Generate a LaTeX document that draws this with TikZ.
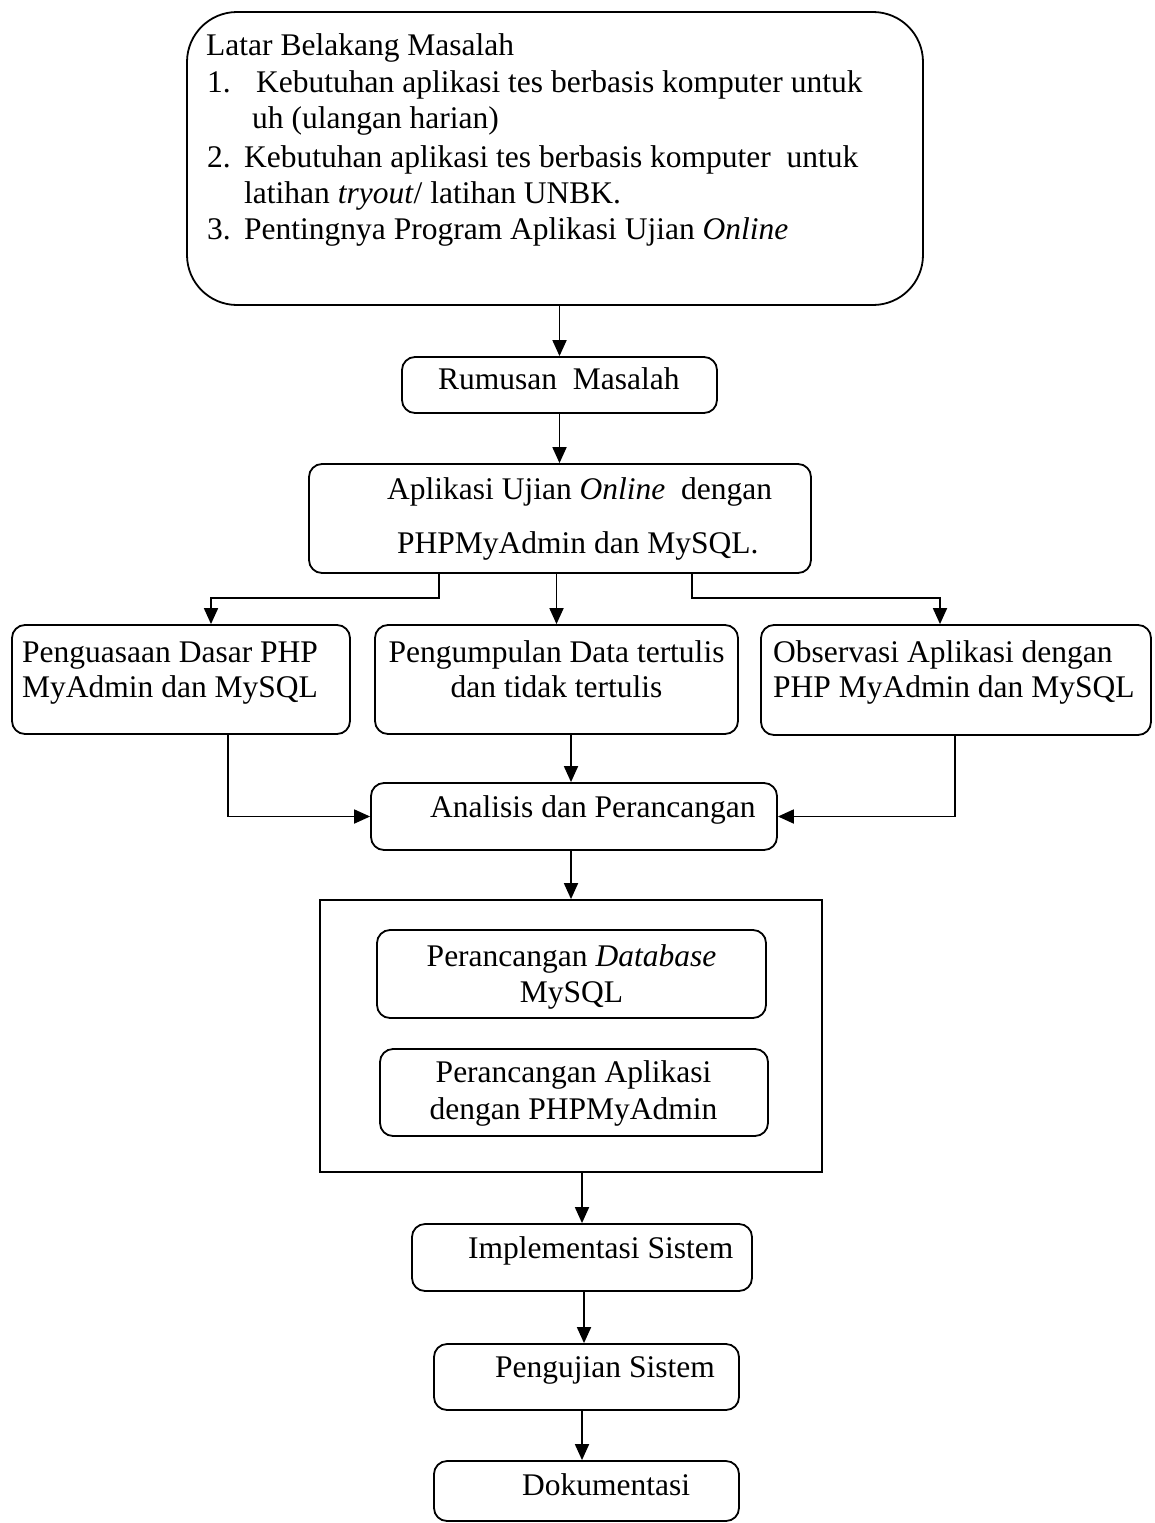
\documentclass[tikz,border=0pt]{standalone}
\usepackage{fontspec}
\setmainfont{Liberation Serif}
\usetikzlibrary{arrows.meta}
\begin{document}
\begin{tikzpicture}[x=1pt,y=-1pt,
  box/.style={draw,line width=1.8pt,rounded corners=13pt,inner sep=0pt},
  plainbox/.style={draw,line width=1.8pt,inner sep=0pt},
  txt/.style={anchor=base west,inner sep=0pt,font=\fontsize{31.5}{36}\selectfont},
  ctxt/.style={anchor=base,inner sep=0pt,font=\fontsize{31.5}{36}\selectfont},
  arr/.style={line width=1.8pt,-{Triangle[length=16pt,width=14pt]}},
  lin/.style={line width=1.8pt}]
\useasboundingbox (0,0) rectangle (1154,1523);
% boxes
\node[box,rounded corners=50pt,minimum width=736pt,minimum height=293pt] (top) at (555,158.5) {};
\node[box,minimum width=315pt,minimum height=56pt] (rum) at (559.5,385) {};
\node[box,minimum width=502pt,minimum height=109pt] (apl) at (560,518.5) {};
\node[box,minimum width=338pt,minimum height=109pt] (pen) at (181,679.5) {};
\node[box,minimum width=363pt,minimum height=109pt] (pgd) at (556.5,679.5) {};
\node[box,minimum width=390pt,minimum height=110pt] (obs) at (956,680) {};
\node[box,minimum width=406pt,minimum height=67pt] (ana) at (574,816.5) {};
\node[plainbox,minimum width=502pt,minimum height=272pt] (big) at (571,1036) {};
\node[box,minimum width=389pt,minimum height=88pt] (db) at (571.5,974) {};
\node[box,minimum width=388pt,minimum height=87pt] (app) at (574,1092.5) {};
\node[box,minimum width=340pt,minimum height=67pt] (imp) at (582,1257.5) {};
\node[box,minimum width=305pt,minimum height=66pt] (uji) at (586.5,1377) {};
\node[box,minimum width=305pt,minimum height=60pt] (dok) at (586.5,1491) {};
% texts
\node[txt] (t0) at (206,55) {Latar Belakang Masalah};
\node[txt] (t1n) at (207,92) {1.};
\node[txt] (t1) at (256,92) {Kebutuhan aplikasi tes berbasis komputer untuk};
\node[txt] (t1b) at (252,128) {uh (ulangan harian)};
\node[txt] (t2n) at (207,167) {2.};
\node[txt] (t2) at (244,167) {Kebutuhan aplikasi tes berbasis komputer\ \ untuk};
\node[txt] (t2b) at (244,203) {latihan \textit{tryout}/ latihan UNBK.};
\node[txt] (t3n) at (207,239) {3.};
\node[txt] (t3) at (244,239) {Pentingnya Program Aplikasi Ujian \textit{Online}};
\node[txt] (trum) at (438,389) {Rumusan\ \ Masalah};
\node[txt] (tapl1) at (387,499) {Aplikasi Ujian \textit{Online}\ \ dengan};
\node[txt] (tapl2) at (397,553) {PHPMyAdmin dan MySQL.};
\node[txt] (tpen1) at (22,662) {Penguasaan Dasar PHP};
\node[txt] (tpen2) at (22,697) {MyAdmin dan MySQL};
\node[ctxt] (tpgd1) at (556.5,662) {Pengumpulan Data tertulis};
\node[ctxt] (tpgd2) at (556.5,697) {dan tidak tertulis};
\node[txt] (tobs1) at (773,662) {Observasi Aplikasi dengan};
\node[txt] (tobs2) at (773,697) {PHP MyAdmin dan MySQL};
\node[txt] (tana) at (430,817) {Analisis dan Perancangan};
\node[ctxt] (tdb1) at (571.5,966) {Perancangan \textit{Database}};
\node[ctxt] (tdb2) at (571.5,1002) {MySQL};
\node[ctxt] (tapp1) at (573.5,1082) {Perancangan Aplikasi};
\node[ctxt] (tapp2) at (573.5,1119) {dengan PHPMyAdmin};
\node[txt] (timp) at (468,1258) {Implementasi Sistem};
\node[txt] (tuji) at (495,1377) {Pengujian Sistem};
\node[txt] (tdok) at (522,1495) {Dokumentasi};
% helper coordinates
\coordinate (bl) at (439,598);
\coordinate (al) at (211,0);
\coordinate (br) at (692,598);
\coordinate (ar) at (940,0);
\coordinate (cl) at (228,0);
\coordinate (cr) at (955,0);
\coordinate (cm) at (571,0);
\coordinate (xi) at (584,0);
\coordinate (xd) at (582,0);
% connectors
\draw[arr] (top.south -| rum.north) -- (rum.north);
\draw[arr] (rum.south) -- (rum.south |- apl.north);
\draw[arr] (apl.south -| bl) -- (bl) -| (pen.north -| al);
\draw[arr] (apl.south -| pgd.north) -- (pgd.north);
\draw[arr] (apl.south -| br) -- (br) -| (obs.north -| ar);
\draw[arr] (pen.south -| cl) |- (ana.west);
\draw[arr] (obs.south -| cr) |- (ana.east);
\draw[arr] (pgd.south -| cm) -- (ana.north -| cm);
\draw[arr] (ana.south -| big.north) -- (big.north);
\draw[arr] (big.south -| imp.north) -- (imp.north);
\draw[arr] (imp.south -| xi) -- (uji.north -| xi);
\draw[arr] (uji.south -| xd) -- (dok.north -| xd);
\end{tikzpicture}
\end{document}
